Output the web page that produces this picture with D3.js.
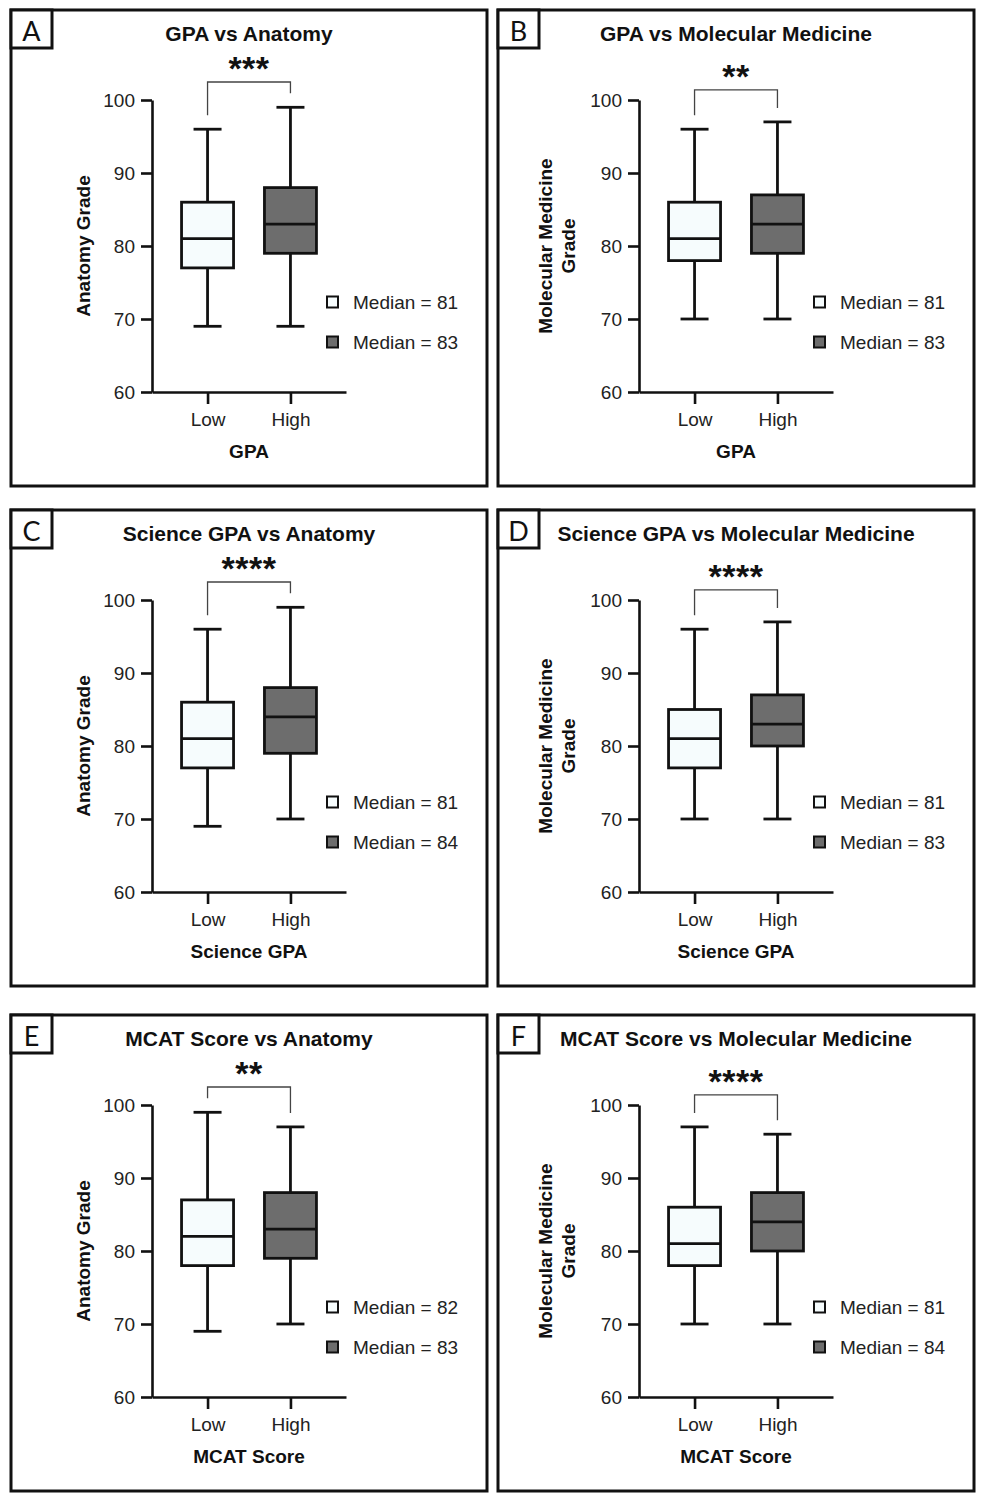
<!DOCTYPE html>
<html>
<head>
<meta charset="utf-8">
<script src="https://cdn.jsdelivr.net/npm/d3@7"></script>
<style>
  body { margin: 0; background: #fff; }
  text { font-family: "Liberation Sans", Arial, sans-serif; fill: #111; }
  .axis path, .axis line { stroke: #111; stroke-width: 2.6px; }
  .axis text { font-size: 19px; fill: #222; }
</style>
</head>
<body>
<div id="chart"></div>
<script>
// panel letters, titles and axis titles
const panelIds = ["A", "B", "C", "D", "E", "F"];
const panelTitles = [
    "GPA vs Anatomy", "GPA vs Molecular Medicine",
    "Science GPA vs Anatomy", "Science GPA vs Molecular Medicine",
    "MCAT Score vs Anatomy", "MCAT Score vs Molecular Medicine"
];
const xTitles = ["GPA", "GPA", "Science GPA", "Science GPA", "MCAT Score", "MCAT Score"];
const yTitles = [
    ["Anatomy Grade"], ["Molecular Medicine", "Grade"],
    ["Anatomy Grade"], ["Molecular Medicine", "Grade"],
    ["Anatomy Grade"], ["Molecular Medicine", "Grade"]
];
const groups = ["Low", "High"];
const significance = ["***", "**", "****", "****", "**", "****"];
const yTicks = [60, 70, 80, 90, 100];

// [min, q1, median, q3, max] per panel
const lowStats = [
    [69, 77, 81, 86, 96],
    [70, 78, 81, 86, 96],
    [69, 77, 81, 86, 96],
    [70, 77, 81, 85, 96],
    [69, 78, 82, 87, 99],
    [70, 78, 81, 86, 97]
];
const highStats = [
    [69, 79, 83, 88, 99],
    [70, 79, 83, 87, 97],
    [70, 79, 84, 88, 99],
    [70, 80, 83, 87, 97],
    [70, 79, 83, 88, 97],
    [70, 80, 84, 88, 96]
];

const fills = { Low: "#f6fcfd", High: "#6d6d6d" };

const width = 986;
const height = 1504;
const panelW = 476;
const panelH = 476;
const colX = [11, 498];
const rowY = [10, 510, 1015];

const svg = d3.select("#chart").append("svg")
    .attr("width", width)
    .attr("height", height);

svg.append("rect").attr("width", width).attr("height", height).attr("fill", "#fff");

panelIds.forEach((id, i) => {
    const px = colX[i % 2];
    const py = rowY[Math.floor(i / 2)];
    const g = svg.append("g").attr("transform", `translate(${px}, ${py})`);

    // Panel frame and letter box
    g.append("rect")
        .attr("width", panelW).attr("height", panelH)
        .attr("fill", "none").attr("stroke", "#111").attr("stroke-width", 3);
    g.append("rect")
        .attr("width", 41).attr("height", 38)
        .attr("fill", "#fff").attr("stroke", "#111").attr("stroke-width", 3);
    g.append("text")
        .attr("x", 20.5).attr("y", 31)
        .attr("text-anchor", "middle")
        .style("font-family", "Lato, 'Open Sans', sans-serif")
        .style("font-size", "27px")
        .text(id);

    // Title
    g.append("text")
        .attr("x", 238).attr("y", 31)
        .attr("text-anchor", "middle")
        .style("font-size", "21px").style("font-weight", "bold")
        .text(panelTitles[i]);

    // Scales
    const x = d3.scalePoint().domain(groups).range([141, 335]).padding(0.67);
    const y = d3.scaleLinear().domain([60, 100]).range([382, 90]);

    // Axes
    g.append("g")
        .attr("class", "axis")
        .attr("transform", "translate(141, 0)")
        .call(d3.axisLeft(y).tickValues(yTicks).tickSize(11).tickSizeOuter(0).tickPadding(6));

    g.append("g")
        .attr("class", "axis")
        .attr("transform", `translate(0, ${y(60)})`)
        .call(d3.axisBottom(x).tickSize(12).tickSizeOuter(0).tickPadding(9));

    // Axis titles
    g.append("text")
        .attr("x", 238).attr("y", y(60) + 66)
        .attr("text-anchor", "middle")
        .style("font-size", "19px").style("font-weight", "bold")
        .text(xTitles[i]);

    const yLines = yTitles[i];
    const yMid = (y(60) + y(100)) / 2;
    const firstBase = yLines.length === 1 ? 79 : 54;
    yLines.forEach((line, k) => {
        g.append("text")
            .attr("transform", `translate(${firstBase + k * 23}, ${yMid}) rotate(-90)`)
            .attr("text-anchor", "middle")
            .style("font-size", "19px").style("font-weight", "bold")
            .text(line);
    });

    // Box plots
    const stats = [lowStats[i], highStats[i]];
    stats.forEach((s, k) => {
        const cx = x(groups[k]);
        const bg = g.append("g");
        bg.append("line")
            .attr("x1", cx).attr("x2", cx).attr("y1", y(s[0])).attr("y2", y(s[4]))
            .attr("stroke", "#111").attr("stroke-width", 2.8);
        [s[0], s[4]].forEach(v => {
            bg.append("line")
                .attr("x1", cx - 14).attr("x2", cx + 14).attr("y1", y(v)).attr("y2", y(v))
                .attr("stroke", "#111").attr("stroke-width", 2.8);
        });
        bg.append("rect")
            .attr("x", cx - 26).attr("width", 52)
            .attr("y", y(s[3])).attr("height", y(s[1]) - y(s[3]))
            .attr("fill", fills[groups[k]]).attr("stroke", "#111").attr("stroke-width", 2.8);
        bg.append("line")
            .attr("x1", cx - 26).attr("x2", cx + 26).attr("y1", y(s[2])).attr("y2", y(s[2]))
            .attr("stroke", "#111").attr("stroke-width", 2.8);
    });

    // Significance bracket
    const legEnds = stats.map(s => y(s[4]) - 14);
    const bracketY = Math.max(72, Math.min(...legEnds) - 18);
    const xl = x("Low"), xh = x("High");
    g.append("path")
        .attr("d", `M${xl},${legEnds[0]}V${bracketY}H${xh}V${legEnds[1]}`)
        .attr("fill", "none").attr("stroke", "#444").attr("stroke-width", 1.3);
    g.append("text")
        .attr("x", (xl + xh) / 2).attr("y", bracketY - 2)
        .attr("text-anchor", "middle")
        .style("font-size", "34px").style("font-weight", "bold").style("letter-spacing", "0.5px")
        .text(significance[i]);

    // Legend
    stats.forEach((s, k) => {
        const ly = 292 + k * 40;
        g.append("rect")
            .attr("x", 316).attr("y", ly - 5.5).attr("width", 11).attr("height", 11)
            .attr("fill", fills[groups[k]]).attr("stroke", "#111").attr("stroke-width", 2);
        g.append("text")
            .attr("x", 342).attr("y", ly + 7)
            .style("font-size", "19px").style("fill", "#222")
            .text(`Median = ${s[2]}`);
    });
});
</script>
</body>
</html>
